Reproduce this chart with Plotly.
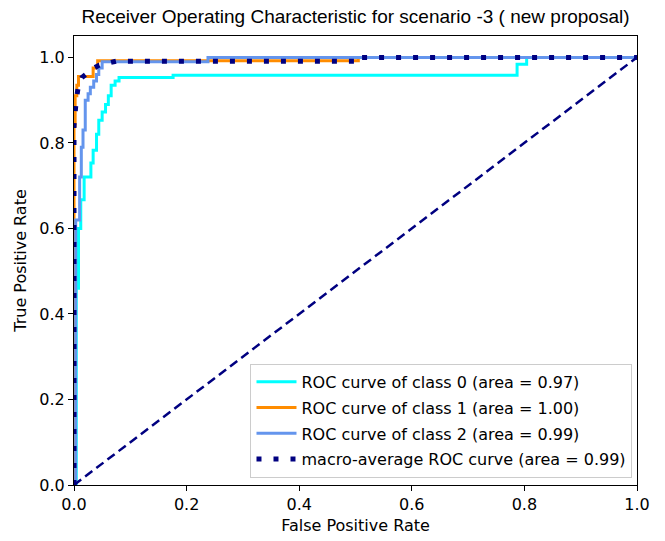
import plotly.graph_objects as go

# ROC curve points per class (false positive rate, true positive rate)
fpr_class0 = [0, 0.004, 0.004, 0.008, 0.008, 0.012, 0.012, 0.018, 0.018, 0.030, 0.030,
              0.034, 0.034, 0.040, 0.040, 0.044, 0.044, 0.050, 0.050, 0.056, 0.056,
              0.061, 0.061, 0.066, 0.066, 0.073, 0.073, 0.080, 0.080, 0.176, 0.176,
              0.787, 0.787, 0.804, 0.804, 1.0]
tpr_class0 = [0, 0, 0.46, 0.46, 0.60, 0.60, 0.667, 0.667, 0.72, 0.72, 0.753,
              0.753, 0.783, 0.783, 0.82, 0.82, 0.853, 0.853, 0.872, 0.872, 0.89,
              0.89, 0.91, 0.91, 0.935, 0.935, 0.945, 0.945, 0.953, 0.953, 0.958,
              0.958, 0.984, 0.984, 1.0, 1.0]

fpr_class1 = [0, 0, 0.002, 0.002, 0.005, 0.005, 0.008, 0.008, 0.034, 0.034, 0.042,
              0.042, 0.505, 0.505, 1.0]
tpr_class1 = [0, 0.84, 0.84, 0.91, 0.91, 0.935, 0.935, 0.955, 0.955, 0.975, 0.975,
              0.992, 0.992, 1.0, 1.0]

fpr_class2 = [0, 0.003, 0.003, 0.010, 0.010, 0.013, 0.013, 0.016, 0.016, 0.020, 0.020,
              0.025, 0.025, 0.029, 0.029, 0.035, 0.035, 0.040, 0.040, 0.044, 0.044,
              0.050, 0.050, 0.238, 0.238, 1.0]
tpr_class2 = [0, 0, 0.62, 0.62, 0.72, 0.72, 0.79, 0.79, 0.83, 0.83, 0.90,
              0.90, 0.915, 0.915, 0.93, 0.93, 0.945, 0.945, 0.96, 0.96, 0.975,
              0.975, 0.99, 0.99, 1.0, 1.0]

fpr_macro = [0, 0, 0.004, 0.008, 0.014, 0.025, 0.035, 0.045, 0.06, 0.075, 0.51, 0.51, 1.0]
tpr_macro = [0, 0.84, 0.90, 0.935, 0.953, 0.965, 0.975, 0.982, 0.987, 0.991, 0.991, 1.0, 1.0]

class_names = ["ROC curve of class 0 (area = 0.97)",
               "ROC curve of class 1 (area = 1.00)",
               "ROC curve of class 2 (area = 0.99)"]
macro_name = "macro-average ROC curve (area = 0.99)"
class_colors = ["#00FFFF", "#FF8C00", "#6495ED"]

chance_x = [0, 1]
chance_y = [0, 1]

tick_vals = [0.0, 0.2, 0.4, 0.6, 0.8, 1.0]
tick_text = ["0.0", "0.2", "0.4", "0.6", "0.8", "1.0"]

MPL_FONT = "DejaVu Sans"
TEXT_SIZE = 16

fig = go.Figure()

curves = [(fpr_class0, tpr_class0), (fpr_class1, tpr_class1), (fpr_class2, tpr_class2)]
for i, ((fx, ty), name, color) in enumerate(zip(curves, class_names, class_colors)):
    fig.add_trace(go.Scatter(
        x=fx, y=ty, mode="lines", name=name, legendgroup=f"g{i}",
        line=dict(color=color, width=3),
    ))

fig.add_trace(go.Scatter(
    x=fpr_macro, y=tpr_macro, mode="lines", name=macro_name, legendgroup="g3",
    line=dict(color="#000080", width=5, dash="5px,12px"),
))

fig.add_trace(go.Scatter(
    x=chance_x, y=chance_y, mode="lines", showlegend=False,
    line=dict(color="#000080", width=2.5, dash="9px,5px"),
))

axis_common = dict(
    showgrid=False, zeroline=False, showline=True, mirror=True,
    linecolor="black", linewidth=1,
    ticks="outside", ticklen=5, tickwidth=1, tickcolor="black",
    tickvals=tick_vals, ticktext=tick_text,
    tickfont=dict(family=MPL_FONT, size=TEXT_SIZE, color="black"),
    automargin=False,
)

fig.update_layout(
    width=665, height=541,
    margin=dict(l=74, r=28, t=36, b=56),
    paper_bgcolor="white", plot_bgcolor="white",
    title=dict(
        text="Receiver Operating Characteristic for scenario -3 ( new proposal)",
        font=dict(family="Liberation Sans", size=19, color="black"),
        x=(74 + 637) / 2 / 665, xanchor="center",
        y=1 - 16 / 541, yanchor="middle", yref="container",
    ),
    xaxis=dict(range=[0, 1], **axis_common,
               title=dict(text="False Positive Rate",
                          font=dict(family=MPL_FONT, size=TEXT_SIZE, color="black"),
                          standoff=6)),
    yaxis=dict(range=[0, 1.05], **axis_common,
               title=dict(text="True Positive Rate",
                          font=dict(family=MPL_FONT, size=TEXT_SIZE, color="black"),
                          standoff=8)),
    legend=dict(
        x=0.992, y=0.016, xanchor="right", yanchor="bottom",
        bgcolor="rgba(255,255,255,0.8)", bordercolor="#cccccc", borderwidth=1,
        font=dict(family=MPL_FONT, size=TEXT_SIZE, color="#000000"),
        traceorder="grouped", tracegroupgap=2, itemwidth=40,
    ),
    showlegend=True,
)

fig.write_html("out.html")
